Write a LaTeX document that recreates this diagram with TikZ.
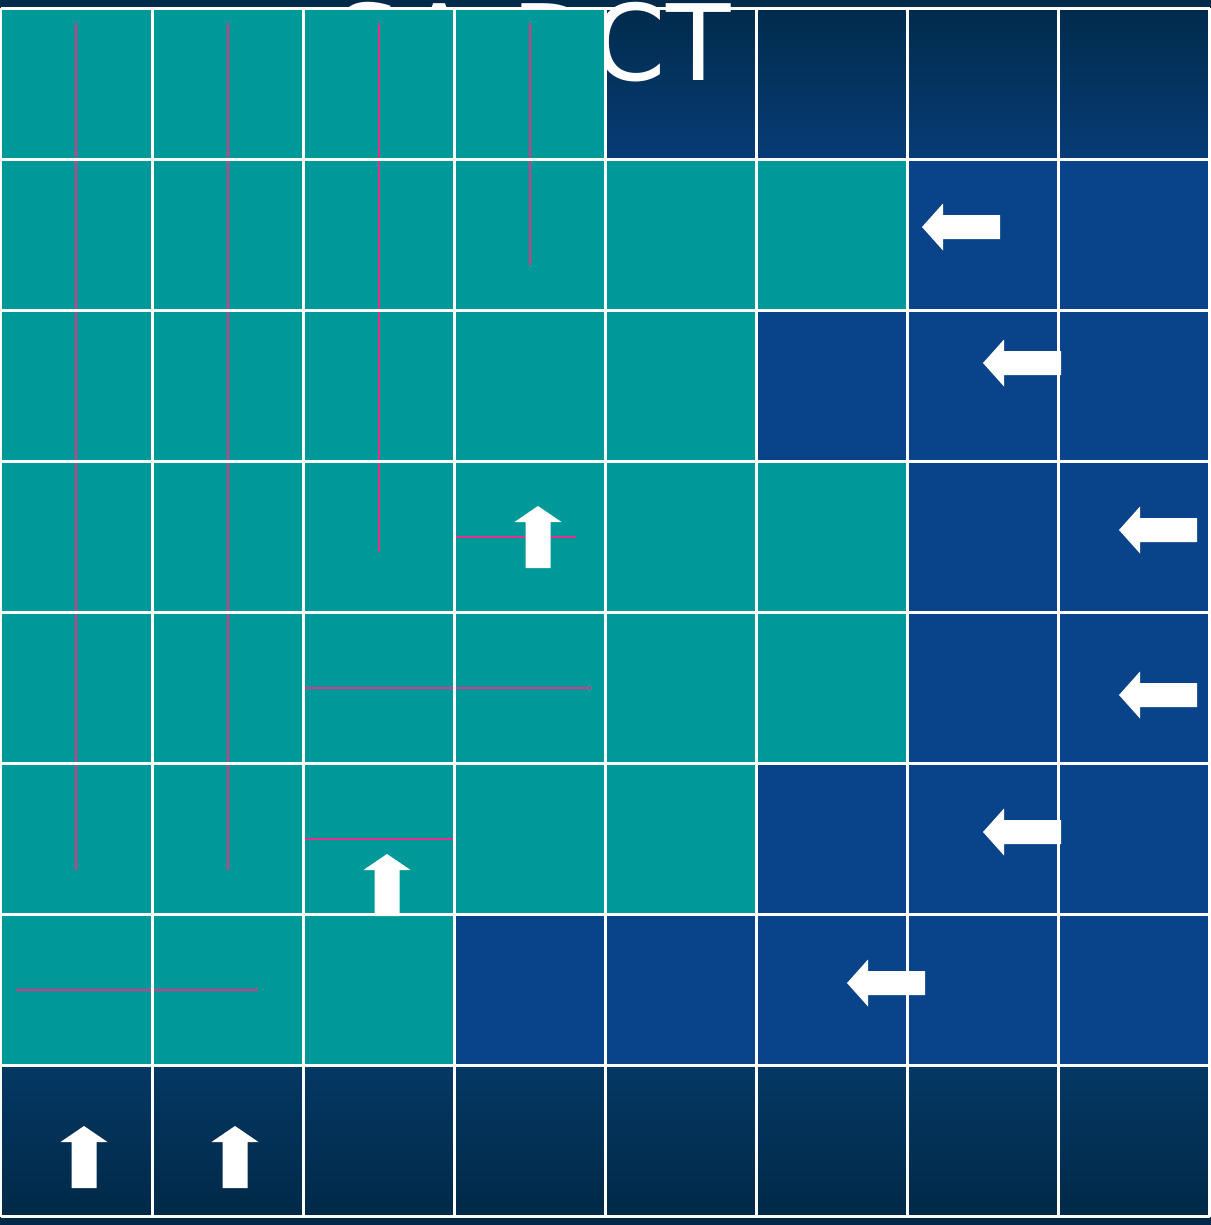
\documentclass[tikz,border=0pt]{standalone}
\usepackage{fontspec}
\usepackage{xcolor}
\usepackage{tikz}
\newfontfamily\titlefont{DejaVu Sans}
\definecolor{bgtop}{RGB}{0,42,74}
\definecolor{bgrow}{RGB}{7,60,118}
\definecolor{bgmid}{RGB}{9,68,138}
\definecolor{bgbot}{RGB}{4,56,100}
\definecolor{bgend}{RGB}{1,40,70}
\definecolor{tealcell}{RGB}{0,153,153}
\definecolor{shiftline}{RGB}{231,48,137}
\tikzset{
  celda/.style={fill=tealcell},
  rejilla/.style={draw=white,line width=0.06cm},
  desplaza/.style={draw=shiftline,line width=0.05cm},
  flecha/.style={fill=white},
  izquierda/.pic={\fill[flecha] (0,0) -- (21,-23.5) -- (21,-12) -- (78,-12) -- (78,12) -- (21,12) -- (21,23.5) -- cycle;},
  arriba/.pic={\fill[flecha] (0,0) -- (23.5,16) -- (12.5,16) -- (12.5,62) -- (-12.5,62) -- (-12.5,16) -- (-23.5,16) -- cycle;}
}
\begin{document}
\begin{tikzpicture}[x=0.02cm,y=-0.02cm]
\useasboundingbox (0,0) rectangle (1211,1225);
% fondo
\shade[top color=bgtop,bottom color=bgrow] (0,0) rectangle (1211,160);
\fill[bgmid] (0,159) rectangle (1211,1067);
\shade[top color=bgbot,bottom color=bgend] (0,1066) rectangle (1211,1225);
% titulo (tapado por las celdas)
\node[anchor=base east,inner sep=0pt,text=white,font=\titlefont\fontsize{60}{72}\selectfont] (titulo) at (731,80) {SA-DCT};
% celdas desplazadas
\foreach \r/\n in {0/4,1/6,2/5,3/6,4/6,5/5,6/3}
  \fill[celda] (1,8+151.1*\r) rectangle (1+151.1*\n,8+151.1*\r+151.1);
% columnas y filas
\draw[desplaza] (76,23) -- (76,870);
\draw[desplaza] (228,23) -- (228,870);
\draw[desplaza] (379,23) -- (379,552);
\draw[desplaza] (530,23) -- (530,265);
\draw[desplaza] (455,537) -- (576,537);
\draw[desplaza] (303,688) -- (591,688);
\draw[desplaza] (303,839) -- (455,839);
\draw[desplaza] (16,990) -- (258,990);
% rejilla
\foreach \i in {0,...,8} {
  \draw[rejilla] (1+151.1*\i,8) -- (1+151.1*\i,1217);
  \draw[rejilla] (1,8+151.1*\i) -- (1210,8+151.1*\i);
}
% flechas
\pic (f1) at (922,227) {izquierda};
\pic (f2) at (983,363) {izquierda};
\pic (f3) at (1119,530) {izquierda};
\pic (f4) at (1119,695) {izquierda};
\pic (f5) at (983,832) {izquierda};
\pic (f6) at (847,983) {izquierda};
\pic (s1) at (84,1126) {arriba};
\pic (s2) at (235,1126) {arriba};
\pic (s3) at (538,506) {arriba};
\pic (s4) at (387,854) {arriba};
\end{tikzpicture}
\end{document}
